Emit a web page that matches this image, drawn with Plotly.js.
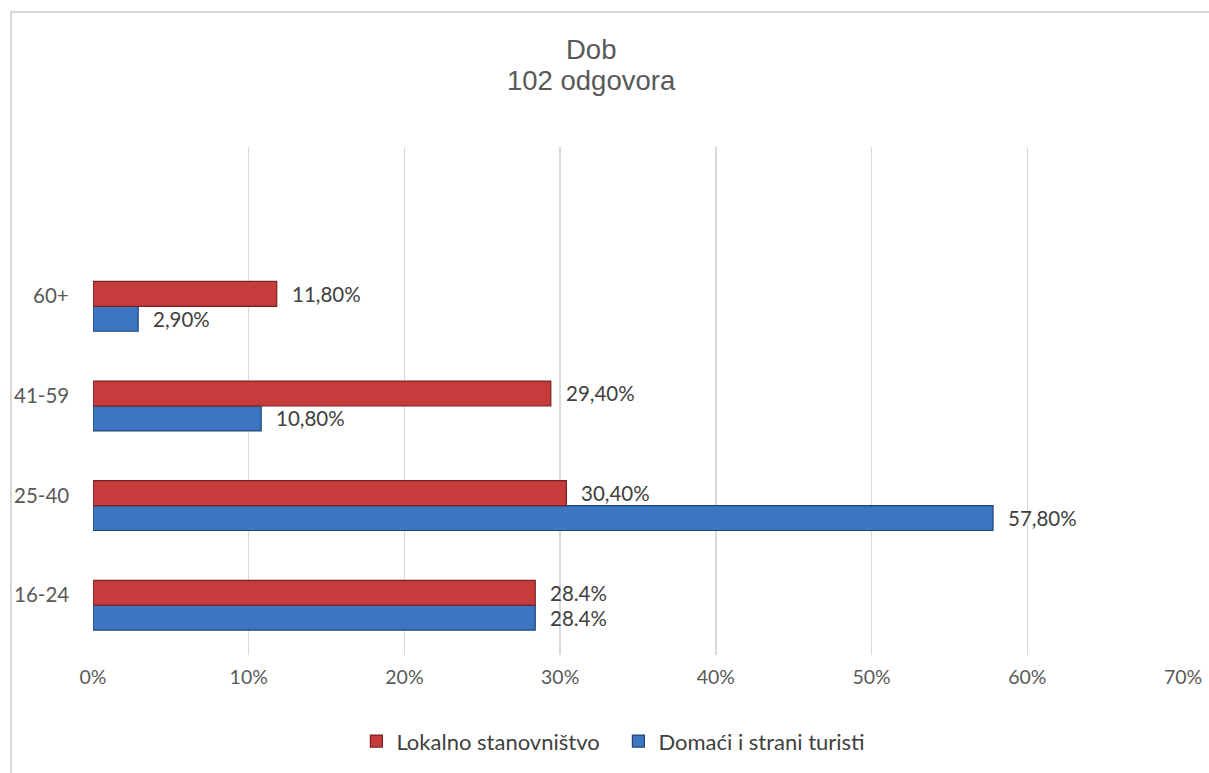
<!DOCTYPE html>
<html>
<head>
<meta charset="utf-8">
<script src="https://cdn.plot.ly/plotly-3.0.1.min.js"></script>
<style>
html,body{margin:0;padding:0;background:#fff;}
#chart{position:absolute;left:0;top:0;width:1209px;height:773px;}
#frame{position:absolute;left:10px;top:11px;width:1220px;height:800px;border-left:2px solid #d9d9d9;border-top:2px solid #d9d9d9;pointer-events:none;}
</style>
</head>
<body>
<div id="chart"></div>
<div id="frame"></div>
<script>
const categories = ['16-24', '25-40', '41-59', '60+'];
const lokalnoValues = [28.4, 30.4, 29.4, 11.8];
const lokalnoLabels = ['28.4%', '30,40%', '29,40%', '11,80%'];
const turistiValues = [28.4, 57.8, 10.8, 2.9];
const turistiLabels = ['28.4%', '57,80%', '10,80%', '2,90%'];
const seriesNames = ['Lokalno stanovništvo', 'Domaći i strani turisti'];
const titleLines = ['Dob', '102 odgovora'];
const xTicks = [0, 10, 20, 30, 40, 50, 60, 70];

const FONT = 'Lato, "Open Sans", "Liberation Sans", sans-serif';
const TITLE_FONT = '"Liberation Sans", Arial, sans-serif';

const traces = [
  {
    type: 'bar', orientation: 'h', name: seriesNames[1],
    y: categories, x: turistiValues,
    marker: {color: '#3C75C0', line: {color: '#1E4677', width: 1.2}},
    hoverinfo: 'skip'
  },
  {
    type: 'bar', orientation: 'h', name: seriesNames[0],
    y: categories, x: lokalnoValues,
    marker: {color: '#C63C3C', line: {color: '#7A2222', width: 1.2}},
    hoverinfo: 'skip'
  }
];

const annotations = [];
categories.forEach((c, i) => {
  annotations.push({x: lokalnoValues[i], y: c, xref: 'x', yref: 'y', text: lokalnoLabels[i],
    showarrow: false, xanchor: 'left', yanchor: 'middle', xshift: 13, yshift: 12.5,
    font: {family: FONT, size: 20.5, color: '#404040'}});
  annotations.push({x: turistiValues[i], y: c, xref: 'x', yref: 'y', text: turistiLabels[i],
    showarrow: false, xanchor: 'left', yanchor: 'middle', xshift: 13, yshift: -12.5,
    font: {family: FONT, size: 20.5, color: '#404040'}});
  // category label (Excel draws it slightly above the group centre)
  annotations.push({x: 0, y: c, xref: 'paper', yref: 'y', text: c,
    showarrow: false, xanchor: 'right', yanchor: 'middle', xshift: -22, yshift: 11,
    font: {family: FONT, size: 20.5, color: '#595959'}});
});
annotations.push({xref: 'paper', yref: 'paper', x: 0.457, y: 1.191, yanchor: 'middle',
  text: titleLines[0], showarrow: false,
  font: {family: TITLE_FONT, size: 27.5, color: '#595959'}});
annotations.push({xref: 'paper', yref: 'paper', x: 0.457, y: 1.131, yanchor: 'middle',
  text: titleLines[1], showarrow: false,
  font: {family: TITLE_FONT, size: 27.5, color: '#595959'}});

const layout = {
  width: 1209, height: 773,
  margin: {l: 93, r: 26, t: 147, b: 118},
  paper_bgcolor: '#ffffff', plot_bgcolor: '#ffffff',
  barmode: 'group', bargap: 0.5, bargroupgap: 0,
  showlegend: true,
  legend: {orientation: 'h', x: 0.482, xanchor: 'center', xref: 'paper',
    y: 0.041, yanchor: 'middle', yref: 'container',
    traceorder: 'reversed', font: {family: FONT, size: 22, color: '#404040'},
    itemwidth: 30, entrywidth: 217},
  xaxis: {
    range: [0, 70], tickvals: xTicks, ticktext: xTicks.map(v => v + '%'),
    showgrid: true, gridcolor: '#d9d9d9', gridwidth: 1.5, zeroline: false,
    showline: false, ticks: '', ticklabelstandoff: 8,
    tickfont: {family: FONT, size: 19.5, color: '#595959'}, fixedrange: true
  },
  yaxis: {
    type: 'category', categoryorder: 'array', categoryarray: categories,
    range: [-0.5, 4.6], showgrid: false, zeroline: false, showline: false,
    ticks: '', showticklabels: false, fixedrange: true
  },
  annotations: annotations
};

Plotly.newPlot('chart', traces, layout, {displayModeBar: false, staticPlot: true});
</script>
</body>
</html>
